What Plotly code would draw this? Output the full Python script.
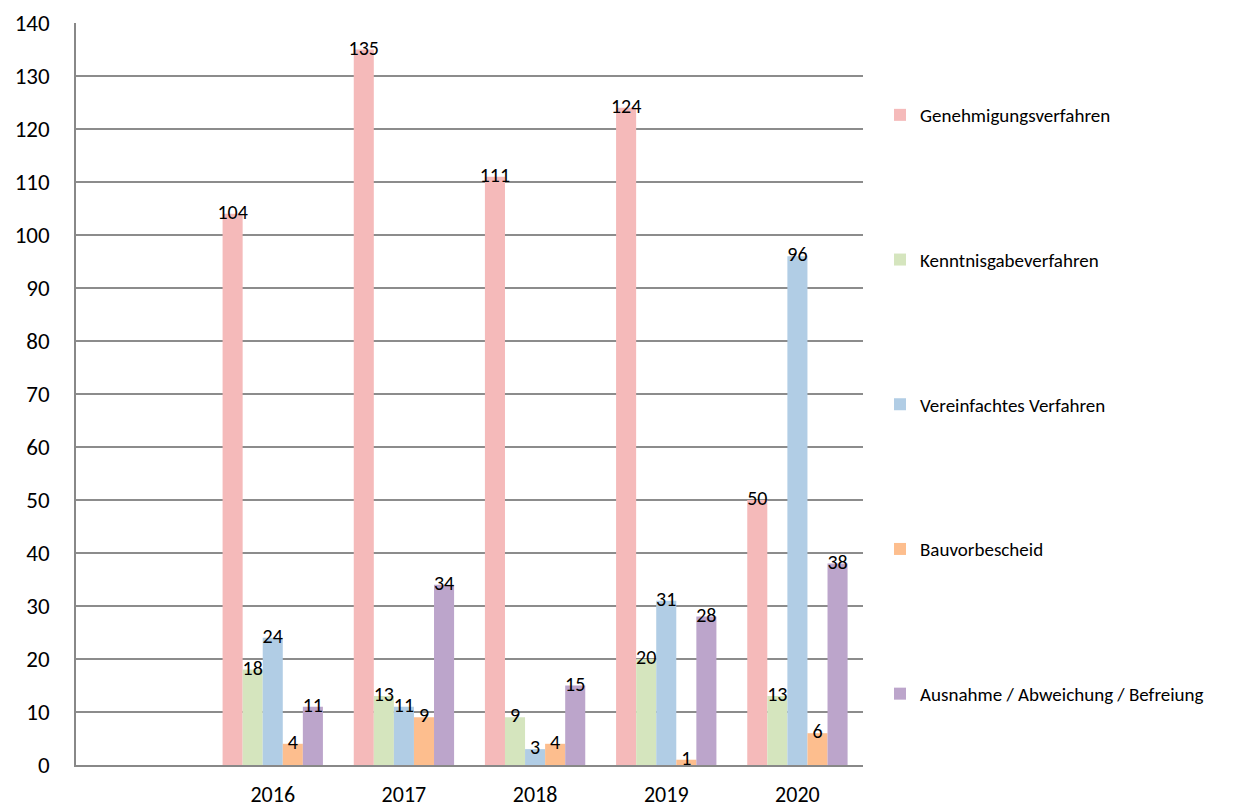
import plotly.graph_objects as go

years = ["", "2016", "2017", "2018", "2019", "2020"]
series_names = [
    "Genehmigungsverfahren",
    "Kenntnisgabeverfahren",
    "Vereinfachtes Verfahren",
    "Bauvorbescheid",
    "Ausnahme / Abweichung / Befreiung",
]
genehmigung = [None, 104, 135, 111, 124, 50]
kenntnisgabe = [None, 18, 13, 9, 20, 13]
vereinfacht = [None, 24, 11, 3, 31, 96]
bauvorbescheid = [None, 4, 9, 4, 1, 6]
ausnahme = [None, 11, 34, 15, 28, 38]

series_values = [genehmigung, kenntnisgabe, vereinfacht, bauvorbescheid, ausnahme]
colors = ["#F5BABA", "#D5E5BE", "#B1CDE5", "#FDBE8E", "#BCA5CB"]

FONT = "Carlito, Lato, sans-serif"
bargap = 0.235
n = len(series_names)
bw = (1 - bargap) / n
xidx = list(range(len(years)))

fig = go.Figure()
for i, (name, vals, col) in enumerate(zip(series_names, series_values, colors)):
    fig.add_trace(go.Bar(
        x=xidx, y=vals, name=name, marker=dict(color=col, line=dict(width=0)),
        legendgroup=name, showlegend=True,
    ))
for i, (name, vals) in enumerate(zip(series_names, series_values)):
    off = -(1 - bargap) / 2 + (i + 0.5) * bw
    xs = [x + off for x, v in zip(xidx, vals) if v is not None]
    ys = [v for v in vals if v is not None]
    fig.add_trace(go.Scatter(
        x=xs, y=ys, mode="text", text=[str(v) for v in ys],
        textposition="middle center", textfont=dict(family=FONT, size=20, color="#000000"),
        showlegend=False, hoverinfo="skip", cliponaxis=False,
    ))

fig.update_layout(
    width=1235, height=810,
    margin=dict(l=76, r=372, t=23, b=45),
    plot_bgcolor="white", paper_bgcolor="white",
    barmode="group", bargap=bargap, bargroupgap=0,
    font=dict(family=FONT, color="#000000"),
    legend=dict(
        x=(880 - 76) / (863 - 76), xanchor="left", y=(765 - 96) / 742, yanchor="top",
        traceorder="grouped", tracegroupgap=117,
        font=dict(family=FONT, size=19, color="#000000"),
        bgcolor="rgba(0,0,0,0)",
    ),
    xaxis=dict(
        range=[-0.5, 5.5], tickmode="array", tickvals=xidx, ticktext=years,
        showgrid=False, zeroline=False, showline=True, linecolor="#888888", linewidth=1.5,
        ticks="", tickfont=dict(family=FONT, size=22, color="#000000"), ticklabelstandoff=9,
        automargin=False,
    ),
    yaxis=dict(
        range=[0, 140], tickmode="linear", tick0=0, dtick=10,
        showgrid=True, gridcolor="#8C8C8C", gridwidth=1.5, zeroline=False,
        showline=True, linecolor="#888888", linewidth=1.5, ticks="",
        tickfont=dict(family=FONT, size=23, color="#000000"), ticklabelstandoff=20,
        automargin=False,
    ),
)

fig.write_html("out.html")
